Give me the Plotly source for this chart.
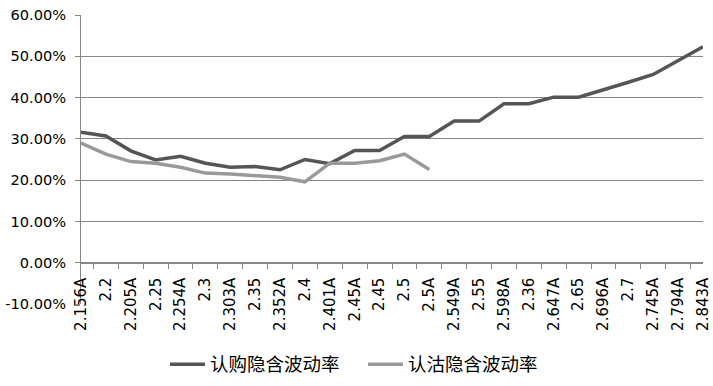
import plotly.graph_objects as go

categories = ["2.156A", "2.2", "2.205A", "2.25", "2.254A", "2.3", "2.303A", "2.35",
              "2.352A", "2.4", "2.401A", "2.45A", "2.45", "2.5", "2.5A", "2.549A",
              "2.55", "2.598A", "2.36", "2.647A", "2.65", "2.696A", "2.7", "2.745A",
              "2.794A", "2.843A"]

call_iv = [0.316, 0.307, 0.271, 0.249, 0.258, 0.241, 0.231, 0.233,
           0.225, 0.250, 0.240, 0.272, 0.272, 0.306, 0.306, 0.343,
           0.343, 0.385, 0.385, 0.401, 0.401, 0.418, 0.437, 0.456,
           0.490, 0.523]

put_iv = [0.290, 0.263, 0.245, 0.241, 0.231, 0.217, 0.215, 0.211,
          0.207, 0.196, 0.241, 0.241, 0.247, 0.263, 0.226]

y_tick_values = [-0.1, 0.0, 0.1, 0.2, 0.3, 0.4, 0.5, 0.6]
y_tick_labels = ["-10.00%", "0.00%", "10.00%", "20.00%", "30.00%", "40.00%", "50.00%", "60.00%"]

series_names = ["认购隐含波动率", "认沽隐含波动率"]

fig = go.Figure()
fig.add_trace(go.Scatter(x=categories, y=call_iv, mode="lines", name=series_names[0],
                         line=dict(color="#555555", width=3.5)))
fig.add_trace(go.Scatter(x=categories[:len(put_iv)], y=put_iv, mode="lines", name=series_names[1],
                         line=dict(color="#999999", width=3.5)))

fig.update_layout(
    width=713, height=386,
    margin=dict(l=81, r=10, t=15, b=82, autoexpand=False),
    paper_bgcolor="white", plot_bgcolor="white",
    font=dict(family="DejaVu Sans", size=15, color="#000000"),
    showlegend=True,
    legend=dict(orientation="h", x=0.135, xanchor="left", y=-0.21, yanchor="middle",
                font=dict(family="Noto Sans CJK SC", size=18.5, color="#000000"),
                itemwidth=35, entrywidth=148, entrywidthmode="pixels", tracegroupgap=0),
    xaxis=dict(type="category", categoryorder="array", categoryarray=categories,
               anchor="free", position=1/7, automargin=False,
               showline=True, linecolor="#868686", linewidth=1,
               ticks="outside", ticklen=5, tickcolor="#868686", tickson="boundaries",
               tickangle=-90, ticklabelstandoff=8,
               showgrid=False, zeroline=False,
               tickfont=dict(family="DejaVu Sans", size=15, color="#000000")),
    yaxis=dict(range=[-0.1, 0.6], tickmode="array", tickvals=y_tick_values,
               ticktext=y_tick_labels,
               automargin=False,
               showline=True, linecolor="#868686", linewidth=1,
               ticks="outside", ticklen=5, tickcolor="#868686",
               showgrid=True, gridcolor="#868686", gridwidth=1,
               zeroline=False, ticklabelstandoff=6,
               tickfont=dict(family="DejaVu Sans", size=14.6, color="#000000")),
)

fig.write_html("out.html", config={"displayModeBar": False},
               post_script="document.body.style.margin='0';document.body.style.overflow='hidden';")
